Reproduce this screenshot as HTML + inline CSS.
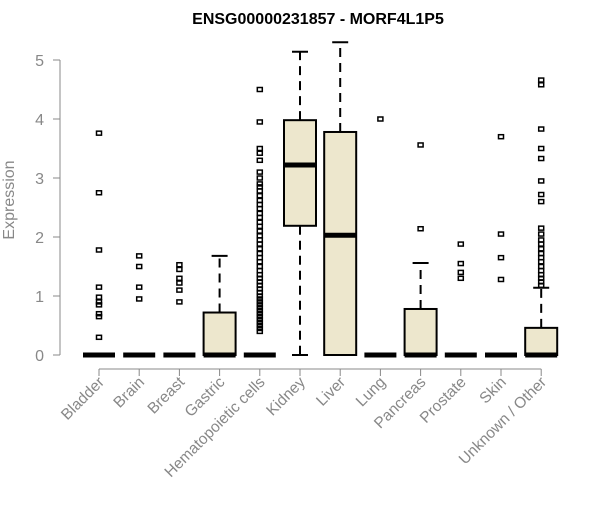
<!DOCTYPE html>
<html><head><meta charset="utf-8"><style>
body{margin:0;background:#fff}
svg text{font-family:"Liberation Sans",Arial,sans-serif}
</style></head><body>
<svg id="chart" width="600" height="500">
<text x="318" y="24" text-anchor="middle" font-weight="bold" font-size="16">ENSG00000231857 - MORF4L1P5</text>
<text transform="translate(14,200) rotate(-90)" text-anchor="middle" font-size="16" fill="#888">Expression</text>
<g id="axes"></g><g id="marks"></g>
</svg>
<script>
const categories=["Bladder","Brain","Breast","Gastric","Hematopoietic cells","Kidney","Liver","Lung","Pancreas","Prostate","Skin","Unknown / Other"];
const q1=[0,0,0,0,0,2.19,0,0,0,0,0,0];
const medians=[0,0,0,0,0,3.22,2.03,0,0,0,0,0];
const q3=[0,0,0,0.72,0,3.98,3.78,0,0.78,0,0,0.46];
const whiskerLow=[0,0,0,0,0,0,0,0,0,0,0,0];
const whiskerHigh=[0,0,0,1.68,0,5.14,5.3,0,1.56,0,0,1.14];
const outliers=[
[3.76,2.75,1.78,1.15,0.98,0.9,0.85,0.7,0.65,0.3],
[1.68,1.5,1.15,0.95],
[1.53,1.45,1.3,1.22,1.1,0.9],
[],
[4.5,3.95,3.5,3.42,3.3,3.1,3.0,2.9,2.85,2.78,2.7,2.62,2.55,2.48,2.4,2.33,2.25,2.18,2.1,2.02,1.95,1.88,1.8,1.72,1.65,1.58,1.5,1.43,1.36,1.3,1.24,1.18,1.12,1.06,1.0,0.95,0.9,0.85,0.8,0.75,0.7,0.65,0.6,0.55,0.5,0.45,0.4],
[],[],[4.0],[3.56,2.14],[1.88,1.55,1.4,1.3],[3.7,2.05,1.65,1.28],
[4.66,4.58,3.83,3.5,3.33,2.95,2.72,2.6,2.15,2.05,1.95,1.88,1.8,1.72,1.65,1.58,1.5,1.43,1.36,1.3,1.24,1.18]];
const yTicks=[0,1,2,3,4,5];
const NS="http://www.w3.org/2000/svg";
const y=v=>355-v*59;
const x=i=>99+i*40.2;
const hw=16;
const axes=document.getElementById('axes'),marks=document.getElementById('marks');
function mk(tag,attrs,parent){const e=document.createElementNS(NS,tag);for(const k in attrs)e.setAttribute(k,attrs[k]);parent.appendChild(e);return e;}
let ya=mk('line',{x1:60,x2:60,y1:y(5),y2:y(0),stroke:'#888'},axes);


yTicks.forEach(t=>{
 let l=mk('line',{x1:53,x2:60,y1:y(t),y2:y(t),stroke:'#888'},axes);
 
 
 let tx=mk('text',{x:44,y:y(t)+6,'text-anchor':'end','font-size':16,fill:'#888'},axes);
 tx.textContent=t;
 
 
});
let xa=mk('line',{x1:x(0),x2:x(categories.length-1),y1:369,y2:369,stroke:'#888'},axes);


categories.forEach((c,i)=>{
 const cx=x(i);
 let l=mk('line',{x1:cx,x2:cx,y1:369,y2:376,stroke:'#888'},axes);
 
 
 let tx=mk('text',{transform:`translate(${cx+6},383) rotate(-45)`,'text-anchor':'end','font-size':15.5,fill:'#888'},axes);
 tx.textContent=c;
 
 
 const g=mk('g',{},marks);
 
 
 if(whiskerHigh[i]>q3[i]){
  mk('line',{x1:cx,x2:cx,y1:y(q3[i]),y2:y(whiskerHigh[i]),stroke:'#000','stroke-width':2,'stroke-dasharray':'9,6'},g);
  mk('line',{x1:cx-8,x2:cx+8,y1:y(whiskerHigh[i]),y2:y(whiskerHigh[i]),stroke:'#000','stroke-width':2},g);
 }
 if(whiskerLow[i]<q1[i]){
  mk('line',{x1:cx,x2:cx,y1:y(q1[i]),y2:y(whiskerLow[i]),stroke:'#000','stroke-width':2,'stroke-dasharray':'9,6'},g);
  mk('line',{x1:cx-8,x2:cx+8,y1:y(whiskerLow[i]),y2:y(whiskerLow[i]),stroke:'#000','stroke-width':2},g);
 }
 if(q3[i]>q1[i]) mk('rect',{x:cx-hw,y:y(q3[i]),width:hw*2,height:y(q1[i])-y(q3[i]),fill:'#ede7cd',stroke:'#000','stroke-width':2},g);
 mk('line',{x1:cx-hw,x2:cx+hw,y1:y(medians[i]),y2:y(medians[i]),stroke:'#000','stroke-width':5},g);
 outliers[i].forEach(v=>{
  let p=mk('rect',{x:cx-2.5,y:y(v)-2,width:5,height:4,fill:'none',stroke:'#000','stroke-width':1.5},g);
  
  
 });
});
</script>
</body></html>
